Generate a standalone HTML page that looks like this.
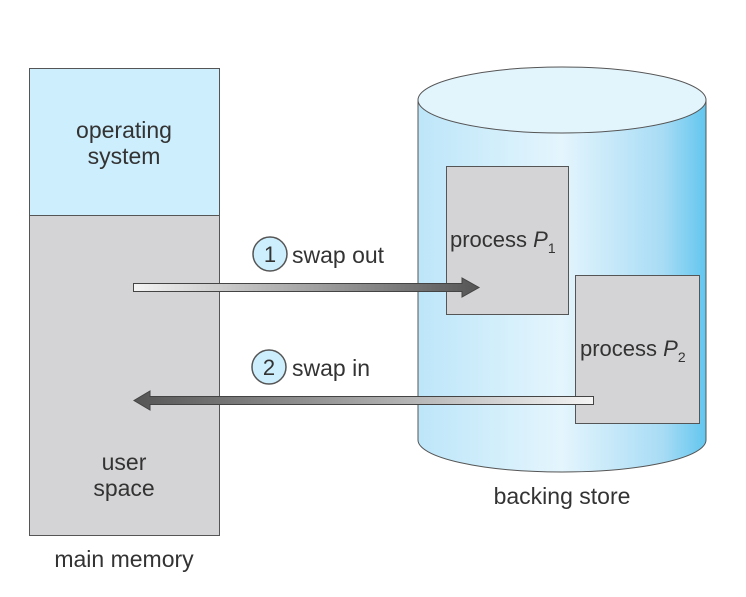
<!DOCTYPE html>
<html><head><style>body{margin:0;background:#fff}</style></head><body>
<svg width="746" height="592" viewBox="0 0 746 592" font-family="Liberation Sans, sans-serif" fill="#333">
<defs>
<linearGradient id="cyl" x1="0" x2="1" y1="0" y2="0">
<stop offset="0" stop-color="#bde6f9"/><stop offset="0.5" stop-color="#e4f5fd"/><stop offset="0.85" stop-color="#a8dcf5"/><stop offset="1" stop-color="#62c6ef"/>
</linearGradient>
<linearGradient id="a1" x1="0" x2="1"><stop offset="0" stop-color="#f4f4f4"/><stop offset="1" stop-color="#555"/></linearGradient>
<linearGradient id="a2" x1="1" x2="0"><stop offset="0" stop-color="#f4f4f4"/><stop offset="1" stop-color="#555"/></linearGradient>
</defs>
<rect x="29.5" y="68.5" width="190" height="147" fill="#cdeefc" stroke="#555"/>
<rect x="29.5" y="215.5" width="190" height="320" fill="#d4d4d6" stroke="#555"/>
<text x="124" y="138" font-size="23" text-anchor="middle">operating</text>
<text x="124" y="164" font-size="23" text-anchor="middle">system</text>
<text x="124" y="470" font-size="23" text-anchor="middle">user</text>
<text x="124" y="496" font-size="23" text-anchor="middle">space</text>
<text x="124" y="567" font-size="23" text-anchor="middle">main memory</text>
<path d="M418,100 L418,440 A144,32 0 0 0 706,440 L706,100 Z" fill="url(#cyl)" stroke="#555"/>
<ellipse cx="562" cy="100" rx="144" ry="33" fill="#e2f4fc" stroke="#555"/>
<rect x="446.5" y="166.5" width="122" height="148" fill="#d4d4d6" stroke="#555"/>
<rect x="575.5" y="275.5" width="124" height="148" fill="#d4d4d6" stroke="#555"/>
<text x="450" y="247" font-size="22">process <tspan font-style="italic">P</tspan><tspan font-size="14" dy="6">1</tspan></text>
<text x="580" y="356" font-size="22">process <tspan font-style="italic">P</tspan><tspan font-size="14" dy="6">2</tspan></text>
<text x="562" y="504" font-size="23" text-anchor="middle">backing store</text>
<path d="M133.5,283.5 H462 V278 L479,287.5 L462,297 V291.5 H133.5 Z" fill="url(#a1)" stroke="#444"/>
<path d="M593.5,396.5 H150 V391 L134,400.5 L150,410 V404.5 H593.5 Z" fill="url(#a2)" stroke="#444"/>
<circle cx="270" cy="254" r="17" fill="#cdeefc" stroke="#555" stroke-width="1.5"/>
<text x="270" y="262" font-size="22" text-anchor="middle">1</text>
<text x="292" y="263" font-size="23">swap out</text>
<circle cx="269" cy="367" r="17" fill="#cdeefc" stroke="#555" stroke-width="1.5"/>
<text x="269" y="375" font-size="22" text-anchor="middle">2</text>
<text x="292" y="376" font-size="23">swap in</text>
</svg>
</body></html>
